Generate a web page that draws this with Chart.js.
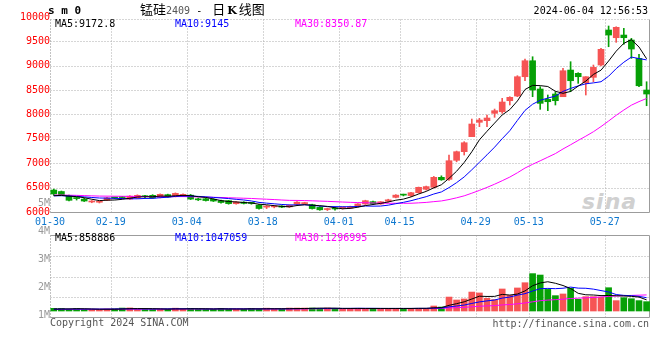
<!DOCTYPE html>
<html>
<head>
<meta charset="utf-8">
<title>锰硅2409 日K线图</title>
<script src="https://cdn.jsdelivr.net/npm/chart.js@4.4.0/dist/chart.umd.min.js"></script>
<style>
  body { margin: 0; background: #fff; }
  #box { position: relative; width: 660px; height: 360px; overflow: hidden;
         font-family: "DejaVu Sans Mono", monospace; font-size: 10px; color: #000; }
  #box canvas { position: absolute; left: 0; top: 0; }
  .txt { position: absolute; white-space: nowrap; line-height: 12px; }
  .cjk { font-family: "Noto Sans CJK SC", sans-serif; font-size: 13px; }
</style>
</head>
<body>
<div id="box">
  <div class="txt" style="left:582px;top:190px;font:italic bold 22px 'DejaVu Sans',sans-serif;color:#d0d0d0;letter-spacing:1px;line-height:24px">sina</div>
  <canvas id="kline" width="660" height="360"></canvas>

  <div class="txt" style="left:48px;top:5px;font-weight:bold;font-size:11px">s m 0</div>
  <div class="txt" style="left:140px;top:2px;line-height:14px"><span class="cjk">锰硅</span><span style="color:#555">2409</span> - <span class="cjk" style="margin-left:4px">日</span><b style="font-family:'DejaVu Serif',serif;font-size:11px;margin:0 2px">K</b><span class="cjk">线图</span></div>
  <div class="txt" style="right:12px;top:5px">2024-06-04 12:56:53</div>

  <div class="txt" style="left:55px;top:18px;color:#000">MA5:9172.8</div>
  <div class="txt" style="left:175px;top:18px;color:#0000ff">MA10:9145</div>
  <div class="txt" style="left:295px;top:18px;color:#ff00ff">MA30:8350.87</div>

  <div class="txt" style="left:55px;top:232px;color:#000">MA5:858886</div>
  <div class="txt" style="left:175px;top:232px;color:#0000ff">MA10:1047059</div>
  <div class="txt" style="left:295px;top:232px;color:#ff00ff">MA30:1296995</div>

  <div class="txt" style="left:50px;top:317px;color:#555">Copyright 2024 SINA.COM</div>
  <div class="txt" style="right:11px;top:318px;color:#555">http://finance.sina.com.cn</div>
</div>

<script>
// ---------- daily bars, 01-30 .. 06-04 ----------
const opens = [6451, 6420, 6330, 6285, 6265, 6205, 6200, 6240, 6292, 6305,
               6265, 6290, 6320, 6342, 6300, 6356, 6322, 6330, 6345, 6268,
               6272, 6262, 6232, 6232, 6170, 6202, 6182, 6142, 6100, 6105,
               6122, 6105, 6160, 6172, 6150, 6095, 6050, 6076, 6082, 6080,
               6110, 6165, 6212, 6165, 6220, 6300, 6352, 6336, 6396, 6466,
               6506, 6711, 6670, 7060, 7237, 7545, 7840, 7873, 8024, 8057,
               8283, 8379, 8775, 9103, 8523, 8311, 8420, 8365, 8912, 8844,
               8652, 8762, 9015, 9733, 9575, 9630, 9528, 9151, 8502];
const highs = [6470, 6430, 6345, 6305, 6280, 6235, 6225, 6300, 6305, 6318,
               6335, 6352, 6340, 6355, 6372, 6366, 6392, 6372, 6360, 6285,
               6282, 6272, 6245, 6240, 6215, 6212, 6195, 6150, 6135, 6130,
               6130, 6145, 6215, 6200, 6160, 6110, 6080, 6090, 6100, 6120,
               6172, 6242, 6226, 6216, 6262, 6356, 6366, 6402, 6512, 6532,
               6730, 6742, 7169, 7250, 7442, 7907, 7922, 7990, 8112, 8332,
               8365, 8796, 9138, 9185, 8570, 8400, 8467, 8947, 9083, 8857,
               8775, 9015, 9357, 9815, 9800, 9767, 9562, 9233, 8672];
const lows = [6340, 6345, 6225, 6245, 6215, 6190, 6185, 6230, 6270, 6282,
              6255, 6280, 6295, 6280, 6290, 6300, 6310, 6320, 6255, 6235,
              6225, 6215, 6180, 6160, 6160, 6165, 6160, 6060, 6070, 6085,
              6090, 6095, 6150, 6160, 6060, 6035, 6030, 6040, 6060, 6070,
              6100, 6155, 6160, 6155, 6200, 6290, 6330, 6320, 6385, 6450,
              6490, 6650, 6650, 7030, 7169, 7545, 7750, 7750, 7942, 8024,
              8195, 8365, 8693, 8365, 8106, 8078, 8195, 8365, 8467, 8639,
              8400, 8672, 8995, 9390, 9480, 9440, 9151, 8570, 8180];
const closes = [6369, 6355, 6240, 6275, 6225, 6215, 6212, 6290, 6286, 6296,
                6325, 6342, 6314, 6290, 6362, 6310, 6382, 6362, 6265, 6250,
                6235, 6225, 6195, 6172, 6205, 6176, 6176, 6072, 6110, 6116,
                6100, 6136, 6202, 6192, 6070, 6045, 6064, 6062, 6090, 6110,
                6165, 6232, 6170, 6210, 6250, 6346, 6346, 6396, 6506, 6521,
                6711, 6660, 7052, 7237, 7421, 7805, 7887, 7928, 8078, 8256,
                8352, 8775, 9103, 8502, 8229, 8262, 8283, 8898, 8693, 8775,
                8775, 8967, 9337, 9630, 9788, 9575, 9343, 8590, 8420];
const volumes = [210000, 200000, 140000, 190000, 130000, 120000, 110000, 150000, 170000, 230000,
                 240000, 150000, 140000, 140000, 150000, 150000, 220000, 140000, 210000, 150000,
                 140000, 140000, 210000, 150000, 140000, 140000, 210000, 160000, 220000, 140000,
                 140000, 230000, 230000, 230000, 230000, 200000, 230000, 210000, 150000, 210000,
                 210000, 210000, 210000, 160000, 210000, 210000, 210000, 210000, 210000, 210000,
                 390000, 310000, 1090000, 860000, 940000, 1480000, 1410000, 990000, 890000, 1720000,
                 1220000, 1800000, 2210000, 2920000, 2810000, 1690000, 1200000, 1330000, 1770000, 910000,
                 1120000, 1120000, 1090000, 1820000, 810000, 1040000, 960000, 810000, 730000];

// sessions before the window, only used so the averages start at the left edge
const preCloses = [6320, 6345, 6360, 6380, 6370, 6350, 6335, 6320, 6340, 6365,
                   6385, 6390, 6370, 6355, 6340, 6330, 6345, 6360, 6375, 6350,
                   6330, 6310, 6325, 6345, 6335, 6320, 6315, 6330, 6335];
const preVolumes = [120000, 140000, 110000, 130000, 150000, 120000, 100000, 130000, 140000, 120000,
                    110000, 130000, 150000, 140000, 120000, 110000, 130000, 120000, 140000, 130000,
                    110000, 120000, 150000, 130000, 120000, 140000, 130000, 120000, 140000];

const xTickIdx = [0, 8, 18, 28, 38, 46, 56, 63, 73];
const xTickLabels = ['01-30', '02-19', '03-04', '03-18', '04-01', '04-15', '04-29', '05-13', '05-27'];
const priceTicks = [6000, 6500, 7000, 7500, 8000, 8500, 9000, 9500, 10000];
const volTicks = [1000000, 2000000, 3000000, 4000000, 5000000];
const volTickLabels = ['1M', '2M', '3M', '4M', '5M'];

// ---------- layout (pixels) ----------
const AREA = { left: 50, right: 650, top: 17, bottom: 318 };
const PRICE_BOTTOM = 212;          // where 6000 sits
const VOL_TOP = 235;               // top of the volume panel
const VOL_BASE = 311;              // where volume 0 sits
const VOL_PX = 12.8 / 1e6;         // px per lot
const VOL_LABEL_PX = 27.9 / 1e6;   // the volume labels use their own spacing
const VOL_LABEL_MID = 259.2;       // where "3M" sits
const SLOT = 7.6;                  // px per session

const RED = '#f65454';
const GREEN = '#06a006';
const MONO = { family: 'DejaVu Sans Mono', size: 10 };

function movingAvg(pre, vals, n) {
    const all = pre.concat(vals);
    return vals.map((_, i) => {
        const end = pre.length + i + 1;
        const win = all.slice(end - n, end);
        return win.reduce((a, b) => a + b, 0) / win.length;
    });
}

const idx = closes.map((_, i) => i);
const barColor = idx.map(i => closes[i] >= opens[i] ? RED : GREEN);
const pts = arr => arr.map((v, i) => ({ x: i, y: v }));

function maLine(values, color, axis) {
    return {
        type: 'line', yAxisID: axis, data: pts(values),
        borderColor: color, borderWidth: 1, pointRadius: 0, tension: 0, order: 0
    };
}

// dotted grid + panel frames, placed from the scales
const panelFrames = {
    id: 'panelFrames',
    beforeDatasetsDraw(chart) {
        const { ctx, chartArea: area, scales } = chart;
        const px = v => Math.round(v) + 0.5;
        const pTop = px(scales.yp.getPixelForValue(priceTicks[priceTicks.length - 1]) + 2);
        const pBot = px(scales.yp.getPixelForValue(priceTicks[0]));
        const vTop = px(VOL_TOP);
        const vBot = px(area.bottom - 1);
        const left = px(area.left), right = px(area.right - 1);
        const seg = (x1, y1, x2, y2) => { ctx.beginPath(); ctx.moveTo(x1, y1); ctx.lineTo(x2, y2); ctx.stroke(); };

        ctx.save();
        ctx.lineWidth = 1;
        ctx.strokeStyle = '#adadad';
        ctx.setLineDash([1, 2]);
        priceTicks.slice(1, -1).forEach(v => {
            const y = px(scales.yp.getPixelForValue(v));
            seg(left, y, right, y);
        });
        for (let k = 1; k < 4; k++) {
            const y = px(vTop + k * (vBot - vTop) / 4);
            seg(left, y, right, y);
        }
        xTickIdx.forEach(i => {
            const x = px(scales.x.getPixelForValue(i - 0.5));
            seg(x, pTop, x, pBot);
            seg(x, vTop, x, vBot);
        });
        seg(left, pTop, right, pTop);
        seg(left, pTop, left, pBot);
        seg(left, vTop, left, vBot);

        ctx.setLineDash([]);
        ctx.strokeStyle = '#9c9c9c';
        seg(right, pTop, right, pBot);
        seg(left, pBot, right, pBot);
        seg(left, vTop, right, vTop);
        seg(right, vTop, right, vBot);
        seg(left, vBot, right, vBot);
        ctx.restore();
    }
};

const pricePx = (PRICE_BOTTOM - AREA.top) / (priceTicks[priceTicks.length - 1] - priceTicks[0]);

new Chart(document.getElementById('kline'), {
    type: 'bar',
    data: {
        datasets: [
            maLine(movingAvg(preCloses, closes, 5), '#000000', 'yp'),
            maLine(movingAvg(preCloses, closes, 10), '#0000ff', 'yp'),
            maLine(movingAvg(preCloses, closes, 30), '#ff00ff', 'yp'),
            maLine(movingAvg(preVolumes, volumes, 5), '#000000', 'yv'),
            maLine(movingAvg(preVolumes, volumes, 10), '#0000ff', 'yv'),
            maLine(movingAvg(preVolumes, volumes, 30), '#ff00ff', 'yv'),
            {
                type: 'bar', yAxisID: 'yp', order: 1, grouped: false,
                data: idx.map(i => ({ x: i, y: [opens[i], closes[i]] })),
                backgroundColor: barColor, barThickness: 6, minBarLength: 1, borderWidth: 0
            },
            {
                type: 'bar', yAxisID: 'yp', order: 2, grouped: false,
                data: idx.map(i => ({ x: i, y: [lows[i], highs[i]] })),
                backgroundColor: barColor, barThickness: 1, borderWidth: 0
            },
            {
                type: 'bar', yAxisID: 'yv', order: 3, grouped: false,
                data: pts(volumes),
                backgroundColor: barColor, barThickness: 6, borderWidth: 0
            }
        ]
    },
    options: {
        responsive: false,
        animation: false,
        events: [],
        layout: { padding: { left: AREA.left, right: 660 - AREA.right, top: AREA.top, bottom: 360 - AREA.bottom } },
        plugins: { legend: { display: false }, tooltip: { enabled: false } },
        scales: {
            x: {
                type: 'linear', axis: 'x', position: { yp: priceTicks[0] },
                min: -0.5, max: -0.5 + (AREA.right - AREA.left) / SLOT,
                bounds: 'data', offset: false,
                grid: { display: false, drawTicks: false }, border: { display: false },
                afterBuildTicks: s => { s.ticks = xTickIdx.map(i => ({ value: i - 0.5 })); },
                ticks: { autoSkip: false, maxRotation: 0, padding: 4, color: '#0f78cf', font: MONO,
                         callback: (v, i) => xTickLabels[i] }
            },
            yp: {
                type: 'linear', axis: 'y', position: { x: -0.5 },
                min: priceTicks[0] - (AREA.bottom - PRICE_BOTTOM) / pricePx,
                max: priceTicks[priceTicks.length - 1],
                bounds: 'data',
                grid: { display: false, drawTicks: false }, border: { display: false },
                afterBuildTicks: s => { s.ticks = priceTicks.map(v => ({ value: v })); },
                ticks: { autoSkip: false, padding: 4, color: '#ff0000', font: MONO, callback: v => String(v) }
            },
            yvl: {
                type: 'linear', axis: 'y', position: { x: -0.5 },
                min: 3e6 - (AREA.bottom - VOL_LABEL_MID) / VOL_LABEL_PX,
                max: 3e6 + (VOL_LABEL_MID - AREA.top) / VOL_LABEL_PX,
                bounds: 'data',
                grid: { display: false, drawTicks: false }, border: { display: false },
                afterBuildTicks: s => { s.ticks = volTicks.map(v => ({ value: v })); },
                ticks: { autoSkip: false, padding: 4, color: '#999999', font: MONO,
                         callback: (v, i) => volTickLabels[i] }
            },
            yv: {
                type: 'linear', axis: 'y', display: false,
                min: -(AREA.bottom - VOL_BASE) / VOL_PX,
                max: (VOL_BASE - AREA.top) / VOL_PX,
                bounds: 'data'
            }
        }
    },
    plugins: [panelFrames]
});
</script>
</body>
</html>
